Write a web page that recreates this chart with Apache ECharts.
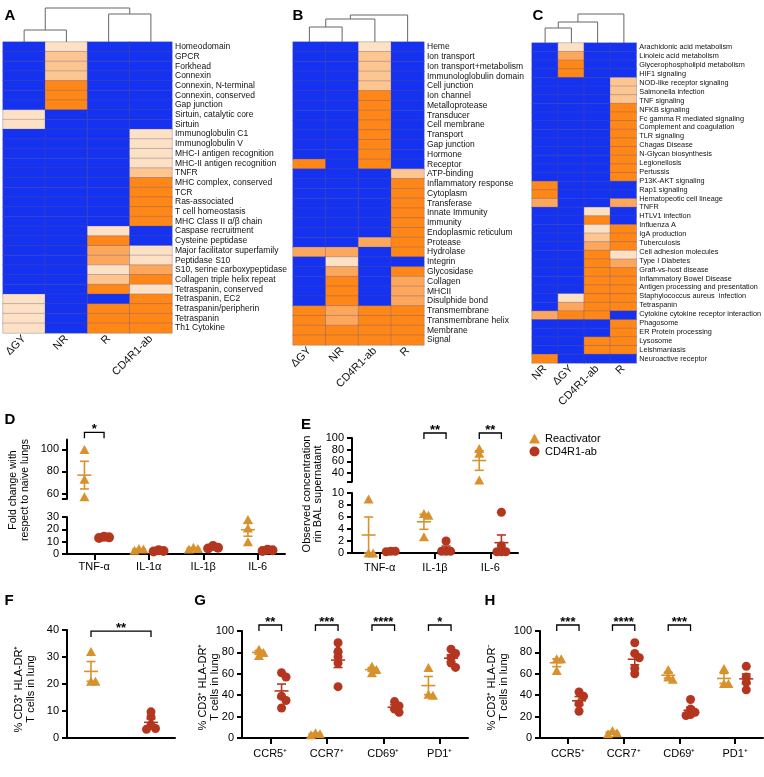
<!DOCTYPE html>
<html><head><meta charset="utf-8">
<script src="https://cdn.jsdelivr.net/npm/echarts@6/dist/echarts.min.js"></script>
<style>html,body{margin:0;padding:0;background:#fff}#c{width:764px;height:777px}</style>
</head><body><div id="c"></div>
<script>
// ---------------- DATA ----------------
// Heatmap levels: 0 = blue (absent), 1..4 = light peach .. orange
const colsA = ['ΔGY','NR','R','CD4R1-ab'];
const rowsA = ['Homeodomain','GPCR','Forkhead','Connexin','Connexin, N-terminal','Connexin, conserved','Gap junction','Sirtuin, catalytic core','Sirtuin','Immunoglobulin C1','Immunoglobulin V','MHC-I antigen recognition','MHC-II antigen recognition','TNFR','MHC complex, conserved','TCR','Ras-associated','T cell homeostasis','MHC Class II α/β chain','Caspase recruitment','Cysteine peptidase','Major facilitator superfamily','Peptidase S10','S10, serine carboxypeptidase','Collagen triple helix repeat','Tetraspanin, conserved','Tetraspanin, EC2','Tetraspanin/peripherin','Tetraspanin','Th1 Cytokine'];
const valsA = [[0,1,0,0],[0,2,0,0],[0,2,0,0],[0,2,0,0],[0,4,0,0],[0,4,0,0],[0,4,0,0],[1,0,0,0],[1,0,0,0],[0,0,0,1],[0,0,0,1],[0,0,0,1],[0,0,0,1],[0,0,0,2],[0,0,0,4],[0,0,0,4],[0,0,0,4],[0,0,0,4],[0,0,0,4],[0,0,1,0],[0,0,4,0],[0,0,3,1],[0,0,3,1],[0,0,1,3],[0,0,2,4],[0,0,4,1],[1,0,0,4],[1,0,4,4],[1,0,4,4],[1,0,4,4]];
const linkA = [[0,1,12],[2,3,28],[4,5,34]];

const colsB = ['ΔGY','NR','CD4R1-ab','R'];
const rowsB = ['Heme','Ion transport','Ion transport+metabolism','Immunologlobulin domain','Cell junction','Ion channel','Metalloprotease','Transducer','Cell membrane','Transport','Gap junction','Hormone','Receptor','ATP-binding','Inflammatory response','Cytoplasm','Transferase','Innate Immunity','Immunity','Endoplasmic reticulum','Protease','Hydrolase','Integrin','Glycosidase','Collagen','MHCII','Disulphide bond','Transmembrane','Transmembrane helix','Membrane','Signal'];
const valsB = [[0,0,1,0],[0,0,2,0],[0,0,2,0],[0,0,2,0],[0,0,2,0],[0,0,4,0],[0,0,4,0],[0,0,4,0],[0,0,4,0],[0,0,4,0],[0,0,4,0],[0,0,4,0],[4,0,4,0],[0,0,0,2],[0,0,0,4],[0,0,0,4],[0,0,0,4],[0,0,0,4],[0,0,0,4],[0,0,0,4],[0,0,3,4],[3,3,0,4],[0,1,0,0],[0,3,0,4],[0,4,0,3],[0,4,0,3],[0,4,0,3],[4,3,4,4],[4,3,4,4],[4,4,4,4],[4,4,4,4]];
const linkB = [[0,1,15],[4,2,23],[5,3,27]];

const colsC = ['NR','ΔGY','CD4R1-ab','R'];
const rowsC = ['Arachidonic acid metabolism','Linoleic acid metabolism','Glycerophospholipid metabolism','HIF1 signaling','NOD-like receptor signaling','Salmonella infection','TNF signaling','NFKB signaling','Fc gamma R mediated signaling','Complement and coagulation','TLR signaling','Chagas Disease','N-Glycan biosynthesis','Legionellosis','Pertussis','P13K-AKT signaling','Rap1 signaling','Hematopeotic cell lineage','TNFR','HTLV1 infection','Influenza A','IgA production','Tuberculosis','Cell adhesion molecules','Type I Diabetes','Graft-vs-host disease','Inflammatory Bowel Disease','Antigen processing and presentation','Staphylococcus aureus  infection','Tetraspanin','Cytokine cytokine receptor interaction','Phagosome','ER Protein processing','Lysosome','Leishmaniasis','Neuroactive receptor'];
const valsC = [[0,1,0,0],[0,3,0,0],[0,4,0,0],[0,4,0,0],[0,0,0,2],[0,0,0,2],[0,0,0,2],[0,0,0,4],[0,0,0,4],[0,0,0,4],[0,0,0,4],[0,0,0,4],[0,0,0,4],[0,0,0,4],[0,0,0,4],[0,0,0,4],[4,0,0,0],[4,0,0,0],[3,0,0,3],[0,0,1,0],[0,0,4,0],[0,0,1,4],[0,0,2,4],[0,0,3,4],[0,0,4,1],[0,0,4,3],[0,0,4,4],[0,0,4,4],[0,0,4,4],[0,1,4,4],[0,3,4,4],[3,4,4,0],[0,0,0,4],[0,0,0,4],[0,0,4,4],[0,0,4,4],[4,0,0,0]];
const linkC = [[0,1,15],[4,2,21],[5,3,29]];

const catsD = ['TNF-α','IL-1α','IL-1β','IL-6'];
const reactD = [[100,73,57],[4.5,3,4],[5.5,4,4.5],[28,21,10]];
const cd4D = [[13,14,13.5],[2,3,2.5],[6.5,4.5,5],[3,3.5,2.5]];

const catsE = ['TNF-α','IL-1β','IL-6'];
const reactE = [[9,0,0],[6.6,6.3,2.7],[82,74,28]];
const cd4E = [[0.3,0.2,0.3],[2,0.3,0.3,0.3],[6.8,1.2,0.2,0.2,0.2]];

const reactF = [[32,21,21]];
const cd4F = [[9.7,7.8,4.8,3.5,3.2]];

const catsG = ['CCR5⁺','CCR7⁺','CD69⁺','PD1⁺'];
const reactG = [[83,80,77],[5,3,4],[67,64,61],[66,41,40]];
const cd4G = [[61,57,39,35,28],[89,81,76,70,48],[34,30,27,24],[83,79,75,70,66]];

const catsH = ['CCR5⁺','CCR7⁺','CD69⁺','PD1⁺'];
const reactH = [[74,74,63],[7,5,4],[64,57,55],[65,51,51]];
const cd4H = [[43,39,32,25],[89,79,75,65,60],[36,27,24,22,21],[67,57,52,45]];

const sigD = [[0,'*']];
const sigE = [[1,'**'],[2,'**']];
const sigF = [[0,'**']];
const sigG = [[0,'**'],[1,'***'],[2,'****'],[3,'*']];
const sigH = [[0,'***'],[1,'****'],[2,'***']];

// ---------------- STYLE / LAYOUT ----------------
const FONT = '"Liberation Sans", Arial, Helvetica, sans-serif';
const LEVELS = ['#1432ef','#fde1c4','#fdc690','#fda75c','#ff8718'];
const GOLD = '#D8912C', RED = '#B5361F';

const grids=[], xAxes=[], yAxes=[], series=[], heatIdx=[];
function addGrid(l,t,w,h){grids.push({left:l,top:t,width:w,height:h}); return grids.length-1;}
function addX(o){xAxes.push(o); return xAxes.length-1;}
function addY(o){yAxes.push(o); return yAxes.length-1;}

function heatmap(rect, cols, vals, labels, fs){
  const g = addGrid(...rect);
  const xi = addX({type:'category', gridIndex:g, data:cols, position:'bottom',
    axisLine:{show:false}, axisTick:{show:false}, splitLine:{show:false},
    axisLabel:{rotate:45, fontSize:11, color:'#111', margin:4, interval:0, fontFamily:FONT}});
  const cy = addY({type:'category', gridIndex:g, data:vals.map((r,i)=>String(i)), inverse:true, show:false});
  addY({type:'category', gridIndex:g, data:labels, inverse:true, position:'right',
    axisLine:{show:false}, axisTick:{show:false}, splitLine:{show:false},
    axisLabel:{fontSize:fs, color:'#111', margin:3, interval:0, fontFamily:FONT}});
  const data=[]; vals.forEach((r,i)=>r.forEach((v,j)=>data.push([j,i,v])));
  series.push({type:'heatmap', xAxisIndex:xi, yAxisIndex:cy, data, silent:true,
    itemStyle:{borderColor:'rgba(95,85,140,0.55)', borderWidth:0.6}});
  heatIdx.push(series.length-1);
}

function dendSegs(link, n){
  const pos=[], hgt=[];
  for(let i=0;i<n;i++){pos[i]=i; hgt[i]=0;}
  return link.map((l,k)=>{const [a,b,h]=l; const id=n+k; pos[id]=(pos[a]+pos[b])/2; hgt[id]=h; return [pos[a],hgt[a],pos[b],hgt[b],h];});
}
function dendro(rect, link, n){
  const g = addGrid(...rect);
  const hmax = Math.max(...link.map(l=>l[2]));
  const xi = addX({type:'value', gridIndex:g, min:-0.5, max:n-0.5, show:false});
  const yi = addY({type:'value', gridIndex:g, min:0, max:hmax, show:false});
  series.push({type:'custom', xAxisIndex:xi, yAxisIndex:yi, data:dendSegs(link,n), clip:false, silent:true,
    renderItem(p, api){
      const xa=api.value(0), ya=api.value(1), xb=api.value(2), yb=api.value(3), h=api.value(4);
      return {type:'polyline', shape:{points:[api.coord([xa,ya]),api.coord([xa,h]),api.coord([xb,h]),api.coord([xb,yb])]},
        style:{stroke:'#666', lineWidth:1, fill:null}};
    }});
}

function swarm(ys, d){
  // ys: screen y in px; returns horizontal px offsets (loose dodge, overlaps allowed)
  const placed=[], out=new Array(ys.length);
  const order = ys.map((v,i)=>i).sort((a,b)=>ys[a]-ys[b]);
  for(const i of order){
    for(let k=0;k<40;k++){
      const off = k===0?0:(k%2?1:-1)*Math.ceil(k/2)*d*0.45;
      if(placed.every(p=>Math.hypot(p[0]-off,p[1]-ys[i])>=d*0.45)){out[i]=off; placed.push([off,ys[i]]); break;}
    }
  }
  return out;
}
function meanSem(a){const n=a.length, m=a.reduce((s,v)=>s+v,0)/n; const sd=Math.sqrt(a.reduce((s,v)=>s+(v-m)*(v-m),0)/(n-1)); return [m, sd/Math.sqrt(n)];}

function axisLineStyle(){return {show:true, onZero:false, lineStyle:{color:'#000', width:2}};}

function panel(P){
  const segs = P.segs.map((s,k)=>{
    const last = k===P.segs.length-1;
    const g = addGrid(...s.rect);
    const xi = addX({type:'value', gridIndex:g, min:P.xMin, max:P.xMax, show:last,
      axisLine:axisLineStyle(), splitLine:{show:false},
      axisTick:{show:!!P.xLabels, customValues:P.xPos, length:6, lineStyle:{color:'#000',width:2}},
      axisLabel:{show:!!P.xLabels, customValues:P.xPos, fontSize:11, color:'#000', margin:P.xMargin||8, fontFamily:FONT,
        formatter:v=>{const i=P.xPos.findIndex(p=>Math.abs(p-v)<1e-6); return i>=0&&P.xLabels?P.xLabels[i]:'';}}});
    const yi = addY({type:'value', gridIndex:g, min:s.min, max:s.max, axisLine:axisLineStyle(), splitLine:{show:false},
      axisTick:{show:true, customValues:s.ticks, length:5, lineStyle:{color:'#000',width:2}},
      axisLabel:{customValues:s.labels, fontSize:11, color:'#000', margin:8, fontFamily:FONT}});
    return {g, xi, yi, s, ppu:s.rect[3]/(s.max-s.min), bandPx:s.rect[2]/(P.xMax-P.xMin)};
  });
  const segOf = v => {const i=segs.findIndex(S=>v>=S.s.min-1e-9 && v<=S.s.max+1e-9); return i<0?segs.length-1:i;};
  const screenY = v => {const S=segs[segOf(v)]; return S.s.rect[1]+S.s.rect[3]*(S.s.max-v)/(S.s.max-S.s.min);};
  P.groups.forEach((G,gi)=>{
    const pts = segs.map(()=>[]), errs = segs.map(()=>[]);
    G.vals.forEach((arr,c)=>{
      const x0 = P.xPos[c] + P.offsets[gi];
      const offs = swarm(arr.map(screenY), G.size);
      arr.forEach((v,i)=>{const k=segOf(v); pts[k].push([x0 + offs[i]/segs[k].bandPx, v]);});
      const [m,se] = meanSem(arr);
      errs[segOf(m)].push([x0, m, se]);
    });
    segs.forEach((S,k)=>{
      series.push({type:'scatter', name:G.name, xAxisIndex:S.xi, yAxisIndex:S.yi, data:pts[k], symbol:G.symbol,
        symbolSize:G.symbol==='triangle'?[G.size, G.size*0.9]:G.size-1, itemStyle:{color:G.color, opacity:1}, silent:true, z:3});
    });
    segs.forEach((S,k)=>{
      series.push({type:'custom', name:'_err'+gi, xAxisIndex:S.xi, yAxisIndex:S.yi, data:errs[k], clip:false, silent:true, z:4,
        itemStyle:{color:G.color},
        renderItem(p, api){
          const x=api.value(0), m=api.value(1), s=api.value(2);
          const c=api.coord([x,m]), t=api.coord([x,m+s]), b=api.coord([x,m-s]);
          const st={stroke:G.color, lineWidth:1.6};
          return {type:'group', children:[
            {type:'line', shape:{x1:c[0]-7,y1:c[1],x2:c[0]+7,y2:c[1]}, style:st},
            {type:'line', shape:{x1:t[0],y1:t[1],x2:b[0],y2:b[1]}, style:st},
            {type:'line', shape:{x1:t[0]-4.5,y1:t[1],x2:t[0]+4.5,y2:t[1]}, style:st},
            {type:'line', shape:{x1:b[0]-4.5,y1:b[1],x2:b[0]+4.5,y2:b[1]}, style:st}]};
        }});
    });
  });
  // significance brackets on the top segment
  const S0 = segs[0];
  const sig = P.sig;
  series.push({type:'custom', name:'_sig', xAxisIndex:S0.xi, yAxisIndex:S0.yi, clip:false, silent:true, z:5,
    data: sig.map(s=>[P.xPos[s[0]]+P.offsets[0], P.xPos[s[0]]+P.offsets[1], P.sigY]),
    renderItem(p, api){
      const a=api.coord([api.value(0), api.value(2)]), b=api.coord([api.value(1), api.value(2)]);
      return {type:'group', children:[
        {type:'polyline', shape:{points:[[a[0],a[1]+6],[a[0],a[1]],[b[0],b[1]],[b[0],b[1]+6]]}, style:{stroke:'#000', lineWidth:1.3, fill:null}},
        {type:'text', x:(a[0]+b[0])/2, y:a[1]+4, style:{text:sig[p.dataIndex][1], fontSize:13, fontWeight:'bold', fill:'#000', align:'center', verticalAlign:'bottom', fontFamily:FONT}}]};
    }});
}

// ---------------- BUILD ----------------
heatmap([3,42,169,291], colsA, valsA, rowsA, 8.5);
heatmap([293,42,131,303], colsB, valsB, rowsB, 8.5);
heatmap([532,43,105,320], colsC, valsC, rowsC, 7.3);
dendro([3,8,169,34], linkA, 4);
dendro([293,15,131,27], linkB, 4);
dendro([532,14,105,29], linkC, 4);

const grpTri = (vals,size)=>({name:'Reactivator', vals, color:GOLD, symbol:'triangle', size});
const grpCir = (vals,size)=>({name:'CD4R1-ab', vals, color:RED, symbol:'circle', size});

panel({segs:[{rect:[67,439.5,218,59.5], min:55, max:109, ticks:[55,60,80,100], labels:[60,80,100]},
             {rect:[67,517,218,37], min:0, max:30, ticks:[0,10,20,30], labels:[0,10,20,30]}],
  xMin:-0.5, xMax:3.5, xPos:[0,1,2,3], xLabels:catsD, xMargin:7, offsets:[-0.18,0.18],
  groups:[grpTri(reactD,10), grpCir(cd4D,11)], sig:sigD, sigY:115.5});
panel({segs:[{rect:[352,438,166,43.7], min:25, max:100, ticks:[25,40,60,80,100], labels:[40,60,80,100]},
             {rect:[352,493,166,60], min:0, max:10, ticks:[0,2,4,6,8,10], labels:[0,2,4,6,8,10]}],
  xMin:-0.5, xMax:2.5, xPos:[0,1,2], xLabels:catsE, xMargin:9, offsets:[-0.2,0.2],
  groups:[grpTri(reactE,10), grpCir(cd4E,10)], sig:sigE, sigY:108.6});
panel({segs:[{rect:[67,630,108,108], min:0, max:40, ticks:[0,10,20,30,40], labels:[0,10,20,30,40]}],
  xMin:-0.4, xMax:1.4, xPos:[0], xLabels:null, offsets:[0,1],
  groups:[grpTri(reactF,10), grpCir(cd4F,10)], sig:sigF, sigY:39.6});
panel({segs:[{rect:[242,631,226,107], min:0, max:100, ticks:[0,20,40,60,80,100], labels:[0,20,40,60,80,100]}],
  xMin:-0.5, xMax:3.5, xPos:[0,1,2,3], xLabels:catsG, xMargin:10, offsets:[-0.2,0.2],
  groups:[grpTri(reactG,10), grpCir(cd4G,10)], sig:sigG, sigY:105.6});
panel({segs:[{rect:[540,631,223,107], min:0, max:100, ticks:[0,20,40,60,80,100], labels:[0,20,40,60,80,100]}],
  xMin:-0.5, xMax:3.5, xPos:[0,1,2,3], xLabels:catsH, xMargin:10, offsets:[-0.2,0.2],
  groups:[grpTri(reactH,10), grpCir(cd4H,10)], sig:sigH, sigY:105.6});

const letter = (t,x,y)=>({type:'text', x, y, style:{text:t, fontSize:15, fontWeight:'bold', fill:'#000', align:'center', verticalAlign:'middle', fontFamily:FONT}});
const ytitle = (t,x,y,fs,lh)=>({type:'text', x, y, rotation:Math.PI/2, style:{text:t, fontSize:fs, lineHeight:lh, fill:'#000', align:'center', verticalAlign:'middle', fontFamily:FONT}});

const option = {
  animation:false, backgroundColor:'#fff',
  grid:grids, xAxis:xAxes, yAxis:yAxes, series,
  visualMap:{type:'piecewise', show:false, dimension:2, seriesIndex:heatIdx,
    pieces:LEVELS.map((c,i)=>({value:i, color:c}))},
  legend:{orient:'vertical', left:529, top:433, itemWidth:11, itemHeight:10, itemGap:2, padding:0, selectedMode:false,
    textStyle:{fontSize:11, color:'#000', fontFamily:FONT},
    data:[{name:'Reactivator', icon:'triangle'},{name:'CD4R1-ab', icon:'circle'}]},
  graphic:[
    letter('A',10,16), letter('B',298,16), letter('C',538,16),
    letter('D',10,420), letter('E',306,425), letter('F',9,601), letter('G',200,601), letter('H',490,601),
    ytitle('Fold change with\nrespect to naive lungs',19,490,10.5,12),
    ytitle('Observed concentration\nrin BAL supernatant',312.5,494,11,11.5),
    ytitle('% CD3⁺ HLA-DR⁺\nT cells in lung',25,689,11,12),
    ytitle('% CD3⁺ HLA-DR⁺\nT cells in lung',209,687,11,12),
    ytitle('% CD3⁺ HLA-DR⁻\nT cells in lung',497.5,687,11,12)
  ]
};
const chart = echarts.init(document.getElementById('c'));
chart.setOption(option);
</script></body></html>
